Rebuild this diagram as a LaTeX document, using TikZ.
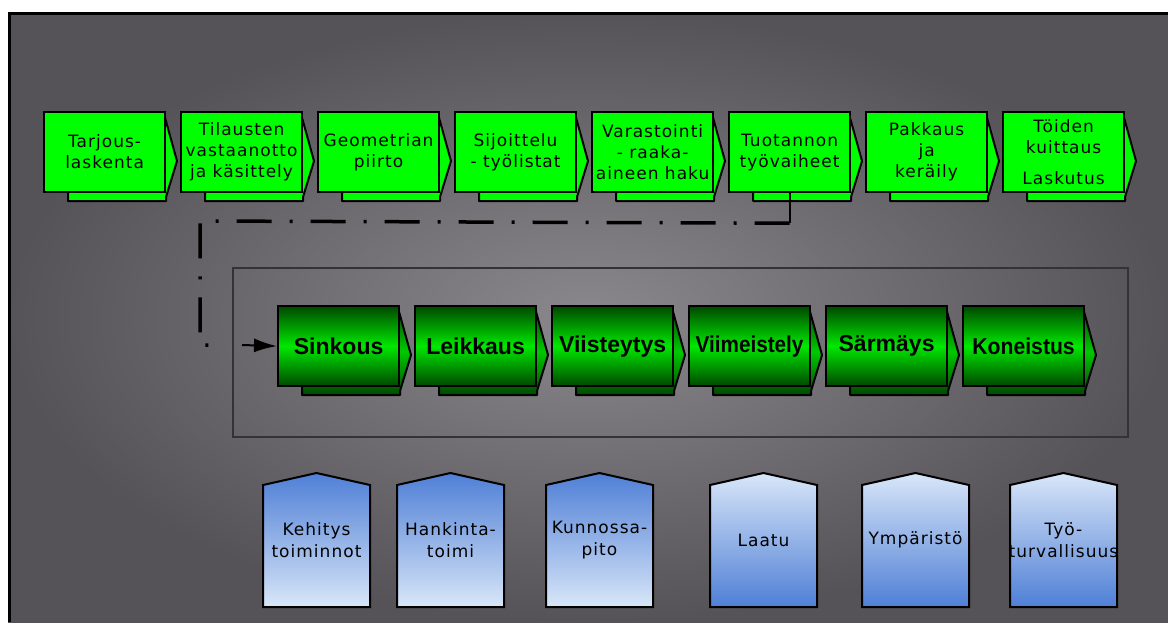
\documentclass[tikz,border=0pt]{standalone}
\usepackage{fontspec}
\newfontfamily\dvfont[LetterSpace=6]{DejaVu Sans}
\newfontfamily\libfont{Liberation Sans}
\usetikzlibrary{arrows.meta}
\definecolor{bgdark}{HTML}{555357}
\definecolor{bglight}{HTML}{8A888C}
\definecolor{procgreen}{HTML}{00FF00}
\definecolor{dkgreen}{HTML}{004800}
\definecolor{brgreen}{HTML}{00E800}
\definecolor{tagdark}{HTML}{4F7FD6}
\definecolor{taglight}{HTML}{D8E6F8}
\tikzset{
  topfront/.style={draw=black, line width=2.2pt, fill=procgreen, align=center,
    font=\dvfont\fontsize{17}{21}\selectfont, inner sep=2pt,
    minimum width=121pt, minimum height=80pt, anchor=north west},
  topback/.style={draw=black, line width=2pt, fill=procgreen, line join=round},
  botfront/.style={draw=black, line width=2.2pt, top color=dkgreen, bottom color=dkgreen,
    middle color=brgreen, align=center,
    font=\libfont\bfseries\fontsize{23}{26}\selectfont, inner sep=2pt,
    minimum width=121pt, minimum height=80pt, anchor=north west},
  botback/.style={draw=black, line width=2pt, top color=dkgreen, bottom color=dkgreen,
    middle color=brgreen!80!dkgreen, line join=round},
  tagA/.style={draw=black, line width=2pt, top color=tagdark, bottom color=taglight},
  tagB/.style={draw=black, line width=2pt, top color=taglight, bottom color=tagdark},
  taglabel/.style={align=center, font=\dvfont\fontsize{17}{22}\selectfont, inner sep=0pt},
  flowline/.style={line width=3.5pt, dash pattern=on 35pt off 18pt on 3pt off 18pt},
  arrowline/.style={line width=2pt, -{Latex[length=23pt,width=14pt]}},
}
\newcommand\procstep[5]{%
  \begin{scope}[shift={(#2,#3)}]
    \path[#4back] (25,3) -- (121,3) -- (134,50) -- (123,86) -- (123,90) -- (25,90) -- cycle;
    \node[#4front] (#1) at (0,0) {#5};
  \end{scope}}
\newcommand\tagshape[5]{%
  \path[#3] (#2,607) -- (#2,485) -- ++(53.5,-12) -- ++(53.5,12) -- ++(0,122) -- cycle;
  \node[taglabel] (#1) at (#2+53.5,540) {#4#5};}
\begin{document}
\begin{tikzpicture}[x=1pt,y=-1pt]
\useasboundingbox (0,0) rectangle (1168,622);
\fill[white] (0,0) rectangle (1168,622);
\shade[inner color=bglight, outer color=bgdark] (8,12) rectangle (1168,622);
\draw[black, line width=3pt] (9,622) -- (9,13) -- (1168,13);
% group frame
\draw[black!80, line width=1.2pt] (233,268) rectangle (1128,437);
% top row
\procstep{t1}{43}{111}{top}{Tarjous-\\laskenta}
\procstep{t2}{180}{111}{top}{Tilausten\\vastaanotto\\ja käsittely}
\procstep{t3}{317}{111}{top}{Geometrian\\piirto}
\procstep{t4}{454}{111}{top}{Sijoittelu\\- työlistat}
\procstep{t5}{591}{111}{top}{Varastointi\\- raaka-\\aineen haku}
\procstep{t6}{728}{111}{top}{Tuotannon\\työvaiheet}
\procstep{t7}{865}{111}{top}{Pakkaus\\ja\\keräily}
\procstep{t8}{1002}{111}{top}{Töiden\\kuittaus\\[10pt]Laskutus}
% bottom row
\procstep{b1}{277}{305}{bot}{Sinkous}
\procstep{b2}{414}{305}{bot}{Leikkaus}
\procstep{b3}{551}{305}{bot}{Viisteytys}
\procstep{b4}{688}{305}{bot}{\scalebox{0.9}[1]{Viimeistely}}
\procstep{b5}{825}{305}{bot}{Särmäys}
\procstep{b6}{962}{305}{bot}{\scalebox{0.92}[1]{Koneistus}}
% connector
\draw[line width=2pt] (t6.south) -- ++(0,30) coordinate (c1);
\coordinate (c2) at (200,221);
\coordinate (c3) at (200,345);
\coordinate (c4) at (226,345);
\coordinate (c5) at (242,345);
\draw[flowline] (c1) -- (c2) -- (c3) -- (c4);
\draw[arrowline] (c5) -- (b1.west);
% tags
\tagshape{s1}{263}{tagA}{Kehitys\\toiminnot}{}
\tagshape{s2}{397}{tagA}{Hankinta-\\toimi}{}
\tagshape{s3}{546}{tagA}{Kunnossa-\\pito}{}
\tagshape{s4}{710}{tagB}{Laatu}{}
\tagshape{s5}{862}{tagB}{Ympäristö}{}
\tagshape{s6}{1010}{tagB}{Työ-\\turvallisuus}{}
\end{tikzpicture}
\end{document}
